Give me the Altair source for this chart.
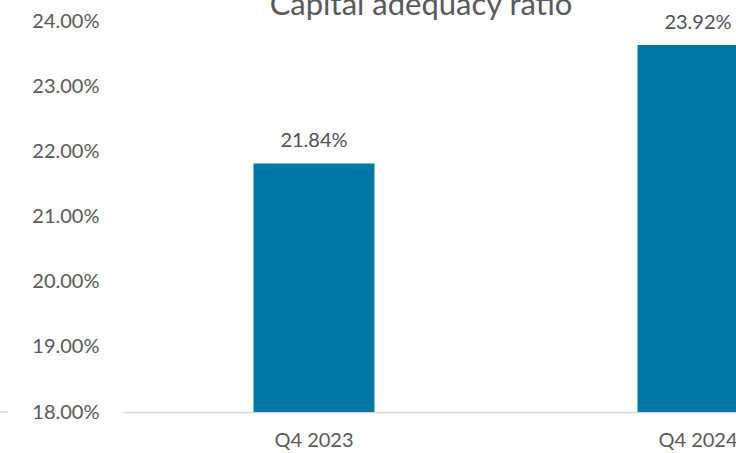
import altair as alt
import pandas as pd

categories = ["Q4 2023", "Q4 2024"]
bar_values = [21.82, 23.64]
label_texts = ["21.84%", "23.92%"]
title_text = "Capital adequacy ratio"

df = pd.DataFrame({"cat": categories, "val": bar_values, "lab": label_texts})

FONT = "Lato"
GRAY = "#595959"

x_enc = alt.X("cat:N", sort=categories,
              scale=alt.Scale(range=[0, 768], paddingInner=0.685, paddingOuter=0.3425),
              axis=alt.Axis(title=None, labelAngle=0, ticks=False, domain=True,
                            domainColor="#D9D9D9", domainWidth=1.5,
                            labelFont=FONT, labelFontSize=20, labelColor=GRAY,
                            labelPadding=18))
y_enc = alt.Y("val:Q", scale=alt.Scale(domain=[18, 24], zero=False, nice=False),
              axis=alt.Axis(title=None, values=[18, 19, 20, 21, 22, 23, 24],
                            labelExpr="format(datum.value, '.2f') + '%'",
                            ticks=False, domain=False, grid=False,
                            labelFont=FONT, labelFontSize=20, labelColor=GRAY,
                            labelPadding=23))

base = alt.Chart(df)
bars = base.mark_bar(color="#0076A5", clip=True).encode(x=x_enc, y=y_enc, y2=alt.datum(18))
labels = base.mark_text(font=FONT, fontSize=20, color="#505050", baseline="middle", dy=-22).encode(
    x=alt.X("cat:N", sort=categories), y="val:Q", text="lab:N")
title = alt.Chart(pd.DataFrame({"t": [title_text]})).mark_text(
    font=FONT, fontSize=31, color=GRAY, align="center", baseline="alphabetic").encode(
    x=alt.value(299), y=alt.value(-6.5), text="t:N")
stub = alt.Chart(pd.DataFrame({"a": [0]})).mark_rule(color="#D9D9D9", strokeWidth=1.5).encode(
    x=alt.value(-122), x2=alt.value(-114), y=alt.value(390.5))

chart = alt.layer(bars, labels, title, stub).properties(
    width=614, height=390.5,
    autosize=alt.AutoSizeParams(type="none"),
    padding={"left": 122, "top": 21.5, "right": 0, "bottom": 41},
    background="white",
).configure_view(stroke=None)

chart.save("out.html", embed_options={"renderer": "svg", "actions": False})
